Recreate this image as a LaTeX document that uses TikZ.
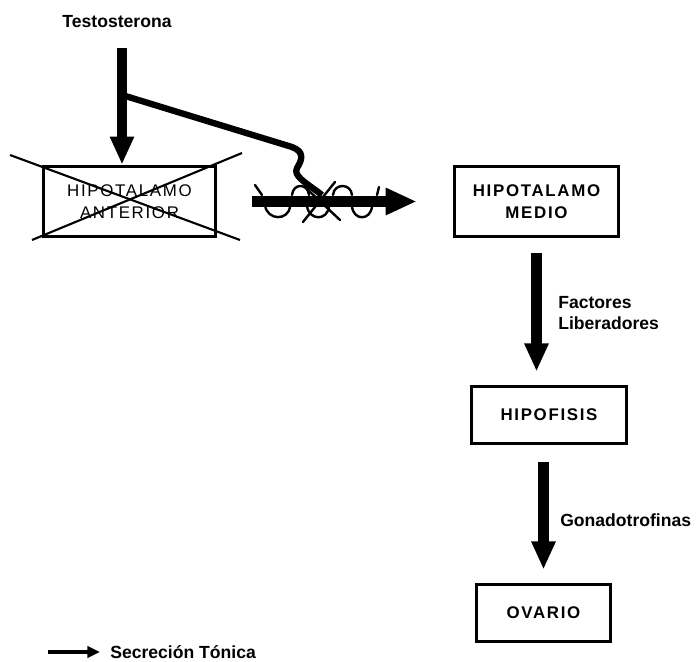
\documentclass[tikz,border=0pt]{standalone}
\usepackage{fontspec}
\setmainfont{Liberation Sans}
\newfontfamily\spaced[LetterSpace=10]{Liberation Sans}
\usepackage{tikz}
\usetikzlibrary{positioning,arrows.meta,calc}

\begin{document}
\begin{tikzpicture}[x=0.025cm,y=-0.025cm,
  box/.style={draw,line width=2.6pt,inner sep=0pt,font=\spaced\bfseries\fontsize{12}{16}\selectfont,align=center},
  lbl/.style={font=\bfseries\fontsize{12.5}{15}\selectfont,align=left,inner sep=0pt},
  bigarrow/.style={line width=7.8pt,-{Triangle[width=16pt,length=20pt]}},
  cross/.style={line width=1.5pt},
  coil/.style={line width=1.7pt,line cap=round}]
\useasboundingbox (0,0) rectangle (700,662);

% boxes
\node[box,font=\spaced\fontsize{12}{16}\selectfont,minimum width=4.3cm,minimum height=1.75cm] (ant) at (129.5,201.5) {HIPOTALAMO\\ANTERIOR};
\node[box,minimum width=4.1cm,minimum height=1.75cm] (medio) at (536.5,201.5) {HIPOTALAMO\\MEDIO};
\node[box,minimum width=3.88cm,minimum height=1.43cm] (hipo) at (549,415) {HIPOFISIS};
\node[box,minimum width=3.35cm,minimum height=1.43cm] (ovario) at (543.5,613) {OVARIO};

% labels
\node[lbl] (testo) at (117,22) {Testosterona};
\node[lbl,anchor=west] (factores) at (558,313) {Factores\\Liberadores};
\node[lbl,anchor=west] (gonado) at (560,520) {Gonadotrofinas};
\node[lbl,anchor=west] (secrecion) at (110,652) {Secreción Tónica};

% testosterona
\coordinate (tstart) at (122,48);
\coordinate (fork) at (122,95);
\draw[bigarrow] (tstart) -- (tstart |- ant.north);
\draw[line width=4.5pt,line join=round] (fork) -- (292,147) .. controls (305,152) and (302,160) .. (297,168) .. controls (293,176) and (305,182) .. (322,195);

% cruz sobre el hipotalamo anterior
\draw[cross] (10,155) -- (240,240);
\draw[cross] (32,240) -- (242,153);

% secrecion tonica
\draw[line width=8pt,-{Triangle[width=18pt,length=22pt]},shorten <=0.875cm,shorten >=0.9cm] (ant) -- (medio);
\draw[coil] (255,185) -- (262,195);
\draw[coil] (265,205) .. controls (267,221) and (289,221) .. (290,206);
\draw[coil] (292,195) .. controls (293,183) and (308,183) .. (309,195);
\draw[coil] (307,206) .. controls (309,221) and (328,221) .. (329,206);
\draw[coil] (303,222) -- (335,182);
\draw[coil] (308,190) -- (340,220);
\draw[coil] (333,195) .. controls (334,183) and (351,183) .. (352,195);
\draw[coil] (352,206) .. controls (353,221) and (371,221) .. (372,206);
\draw[coil] (377,195) -- (379,187);

% cascada
\draw[bigarrow,shorten <=0.375cm,shorten >=0.325cm] (medio.south) -- (medio.south |- hipo.north);
\draw[bigarrow,shorten <=0.425cm,shorten >=0.325cm] (ovario.north |- hipo.south) -- (ovario.north);

% leyenda
\coordinate (leg) at (48,652);
\draw[line width=3pt,-{Triangle[width=8pt,length=9pt]}] (leg) -- ++(52,0);
\end{tikzpicture}
\end{document}
